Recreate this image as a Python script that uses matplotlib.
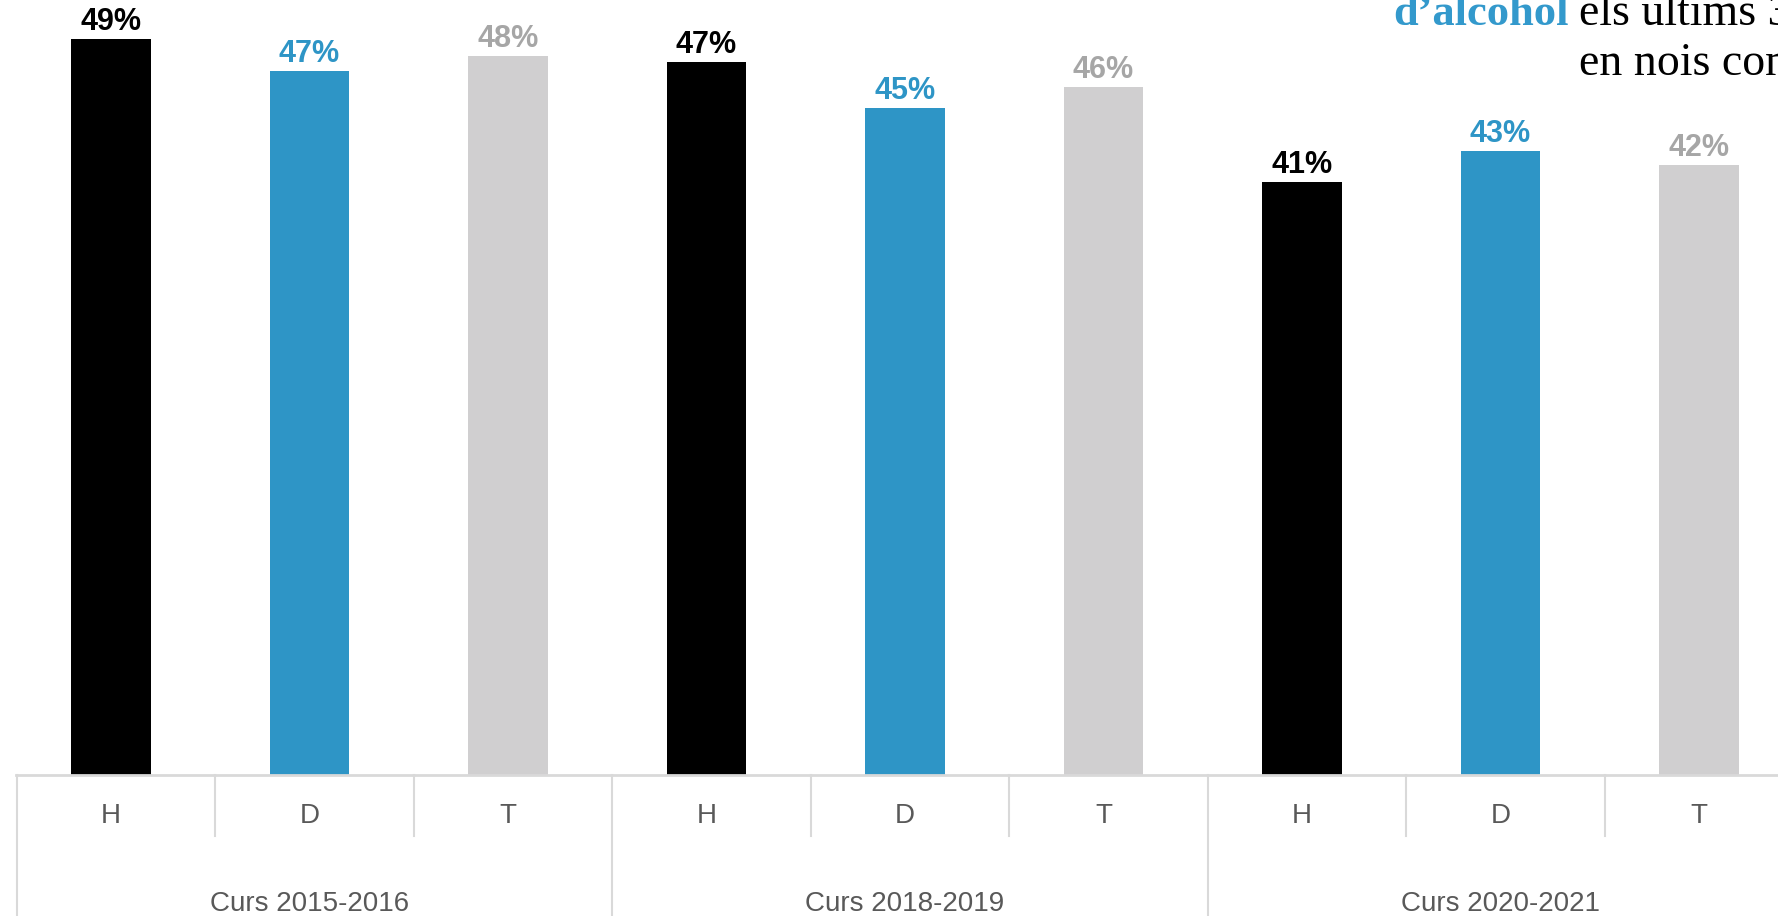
import matplotlib
matplotlib.use("Agg")
import matplotlib.pyplot as plt
from matplotlib.lines import Line2D
import matplotlib.transforms as mtransforms

# ---- data ----
groups = ["Curs 2015-2016", "Curs 2018-2019", "Curs 2020-2021"]
subcats = ["H", "D", "T"]
values_H = [48.6, 47.4, 41.1]
values_D = [46.9, 45.0, 42.7]
values_T = [47.7, 46.1, 42.0]
title_bold = "d\u2019alcohol"
title_rest1 = "els últims 30"
title_line2 = "en nois com"

colors = ["#000000", "#2e95c6", "#d0cfd0"]
label_colors = ["#000000", "#2e95c6", "#a6a6a6"]

plt.rcParams['font.family'] = ['Liberation Sans', 'DejaVu Sans']

W, H = 1778, 916
fig = plt.figure(figsize=(W / 100, H / 100), dpi=100)
axis_px = 774.5
ax = fig.add_axes([0, 1 - axis_px / H, 1, axis_px / H])

series = [values_H, values_D, values_T]
n_sub = len(subcats)
for gi in range(len(groups)):
    for si in range(n_sub):
        x = gi * n_sub + si
        v = series[si][gi]
        ax.bar(x, v - 10, bottom=10, width=0.4, color=colors[si], zorder=2)
        ax.annotate(f"{v:.0f}%", (x, v), xytext=(0, 6.5), textcoords="offset points",
                    ha="center", va="baseline", fontsize=22, fontweight="bold",
                    color=label_colors[si])

ax.set_xlim(-0.559, 8.398)
ax.set_ylim(10, 50.65)
ax.axis("off")

# category axis
trans = mtransforms.blended_transform_factory(ax.transData, ax.transAxes)
sep_color = "#d9d9d9"
ax.add_line(Line2D([-0.48, 8.398], [0, 0], transform=trans, color=sep_color,
                   lw=2, clip_on=False, zorder=3))
minor_bottom = -(836 - axis_px) / axis_px
group_bottom = -(H - axis_px) / axis_px
total = len(groups) * n_sub
for k in range(total + 1):
    xs = k - 0.5 + 0.025
    if k % n_sub == 0:
        yb = group_bottom
    else:
        yb = minor_bottom
    if xs < 8.398:
        ax.add_line(Line2D([xs, xs], [0, yb], transform=trans, color=sep_color,
                           lw=1.5, clip_on=False))

tick_y = -(816 - axis_px) / axis_px
grp_y = -(904 - axis_px) / axis_px
for gi, g in enumerate(groups):
    for si, s in enumerate(subcats):
        ax.text(gi * n_sub + si, tick_y, s, transform=trans, ha="center", va="center",
                fontsize=20, color="#595959")
    ax.text(gi * n_sub + 1, grp_y, g, transform=trans, ha="center", va="center",
            fontsize=20, color="#595959")

# title fragment (cropped at figure edge, as in the reference)
serif = ['Liberation Serif', 'DejaVu Serif']
fig.text(1393 / W, 1 - 25 / H, title_bold, family=serif, fontsize=32, fontweight="bold",
         color="#3399cc", ha="left", va="baseline")
fig.text(1579 / W, 1 - 25 / H, title_rest1, family=serif, fontsize=33,
         color="#000000", ha="left", va="baseline")
fig.text(1579 / W, 1 - 75 / H, title_line2, family=serif, fontsize=33,
         color="#000000", ha="left", va="baseline")

fig.savefig("out.png", dpi=100)
